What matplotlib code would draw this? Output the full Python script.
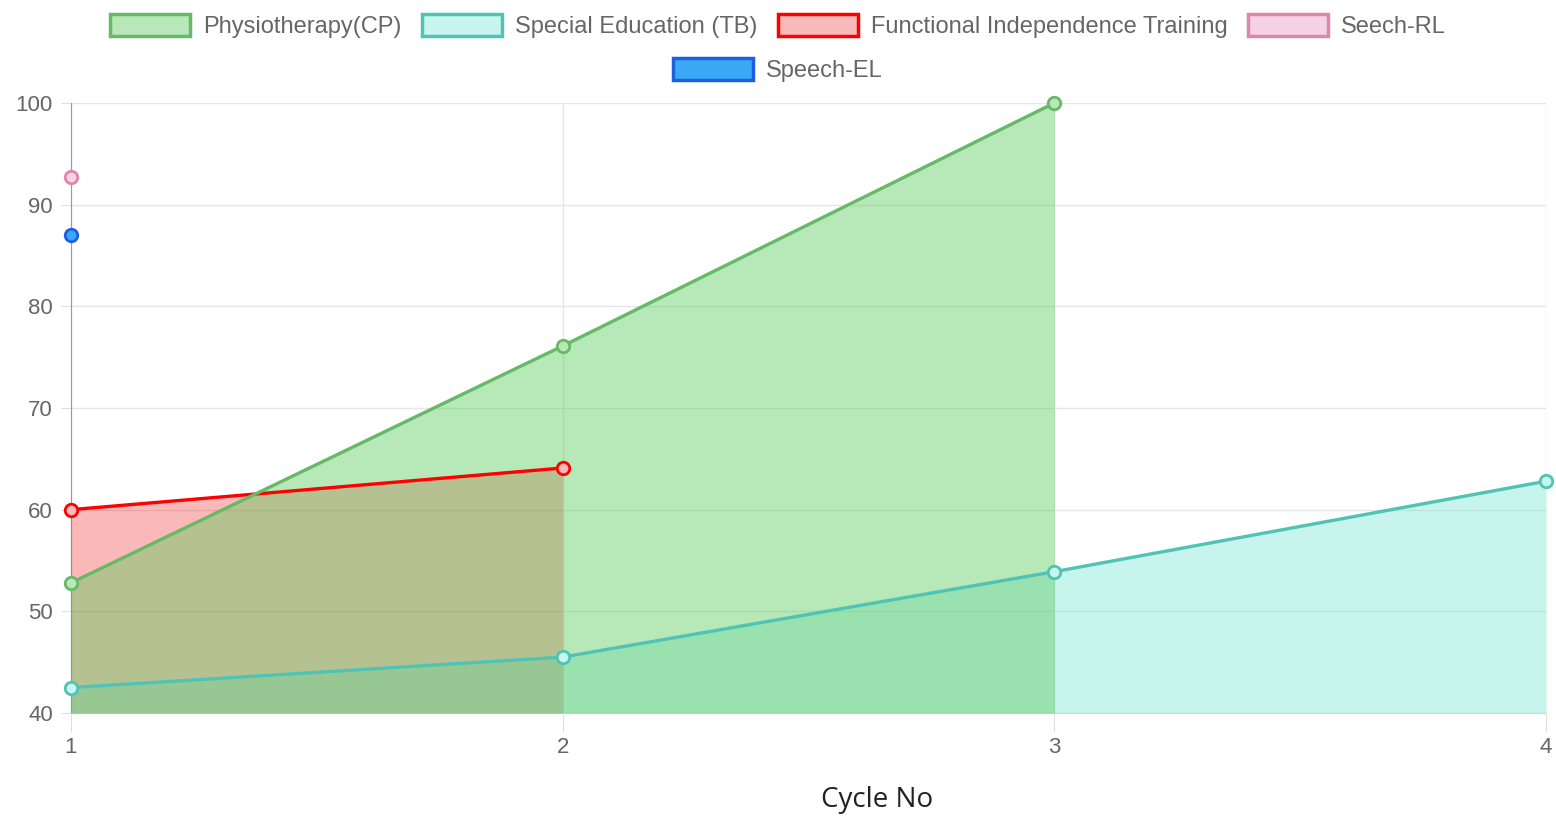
import matplotlib
matplotlib.use("Agg")
import matplotlib.pyplot as plt
from matplotlib.patches import Patch

cycles = [1, 2, 3, 4]
physio = [52.8, 76.1, 100.0]
special_ed = [42.5, 45.5, 53.9, 62.8]
fit = [60.0, 64.1]
seech_rl = [92.7]
speech_el = [87.0]

labels = ["Physiotherapy(CP)", "Special Education (TB)",
          "Functional Independence Training", "Seech-RL", "Speech-EL"]

# (line colour, fill colour, marker face)
styles = [
    ("#66b966", (0.38, 0.80, 0.38, 0.45), "#b8e8b8"),
    ("#4fc4b4", (0.35, 0.88, 0.80, 0.33), "#c8f5f0"),
    ("#ff0000", (0.95, 0.00, 0.00, 0.28), "#f8baba"),
    ("#dd88aa", (0.95, 0.70, 0.85, 0.55), "#f5d2e6"),
    ("#1e5fe0", (0.20, 0.65, 0.97, 0.95), "#3aa8f5"),
]
series = [physio, special_ed, fit, seech_rl, speech_el]

plt.rcParams['font.family'] = ['Liberation Sans', 'DejaVu Sans']

fig = plt.figure(figsize=(15.56, 8.24), dpi=100)
ax = fig.add_axes([71 / 1556, 1 - 713 / 824, (1546 - 71) / 1556, (713 - 103) / 824])

n = len(series)
for i, (vals, (lc, fc, mc)) in enumerate(zip(series, styles)):
    xs = cycles[:len(vals)]
    # fills under all lines, earlier datasets on top
    if len(vals) > 1:
        ax.fill_between(xs, vals, 40, color=fc, linewidth=0, zorder=2 + n - i)
        ax.plot(xs, vals, color=lc, lw=2.4, zorder=10 + n - i)
    ax.plot(xs, vals, 'o', color=lc, mfc=mc, mec=lc, ms=9, mew=2, zorder=20 + n - i,
            clip_on=False)

ax.set_xlim(1, 4)
ax.set_ylim(40, 100)
ax.set_xticks(cycles)
ax.set_yticks(range(40, 101, 10))
ax.grid(True, color="#e6e6e6", lw=1)
ax.set_axisbelow(True)
for s in ["top", "right"]:
    ax.spines[s].set_visible(False)
ax.spines["left"].set_color("#999999")
ax.spines["bottom"].set_color("#dddddd")
ax.tick_params(colors="#e0e0e0", labelcolor="#666666", labelsize=16)
ax.tick_params(axis="y", length=7, pad=6)
ax.tick_params(axis="x", length=14, pad=3)

fig.text(877 / 1556, 1 - 800 / 824, "Cycle No", family=["Open Sans", "DejaVu Sans"],
         fontsize=20, color="#222222", ha="center", va="center")

handles = [Patch(facecolor=mc, edgecolor=lc, linewidth=2.5) for (lc, fc, mc) in styles]
leg_kw = dict(frameon=False, fontsize=17, labelcolor="#666666", handlelength=3.4,
              handleheight=1.05, handletextpad=0.55, columnspacing=0.85, loc="center")
fig.legend(handles[:4], labels[:4], ncol=4, bbox_to_anchor=(778 / 1556, 1 - 26 / 824), **leg_kw)
fig.legend(handles[4:], labels[4:], ncol=1, bbox_to_anchor=(778 / 1556, 1 - 70 / 824), **leg_kw)

fig.savefig("out.png", dpi=100)
